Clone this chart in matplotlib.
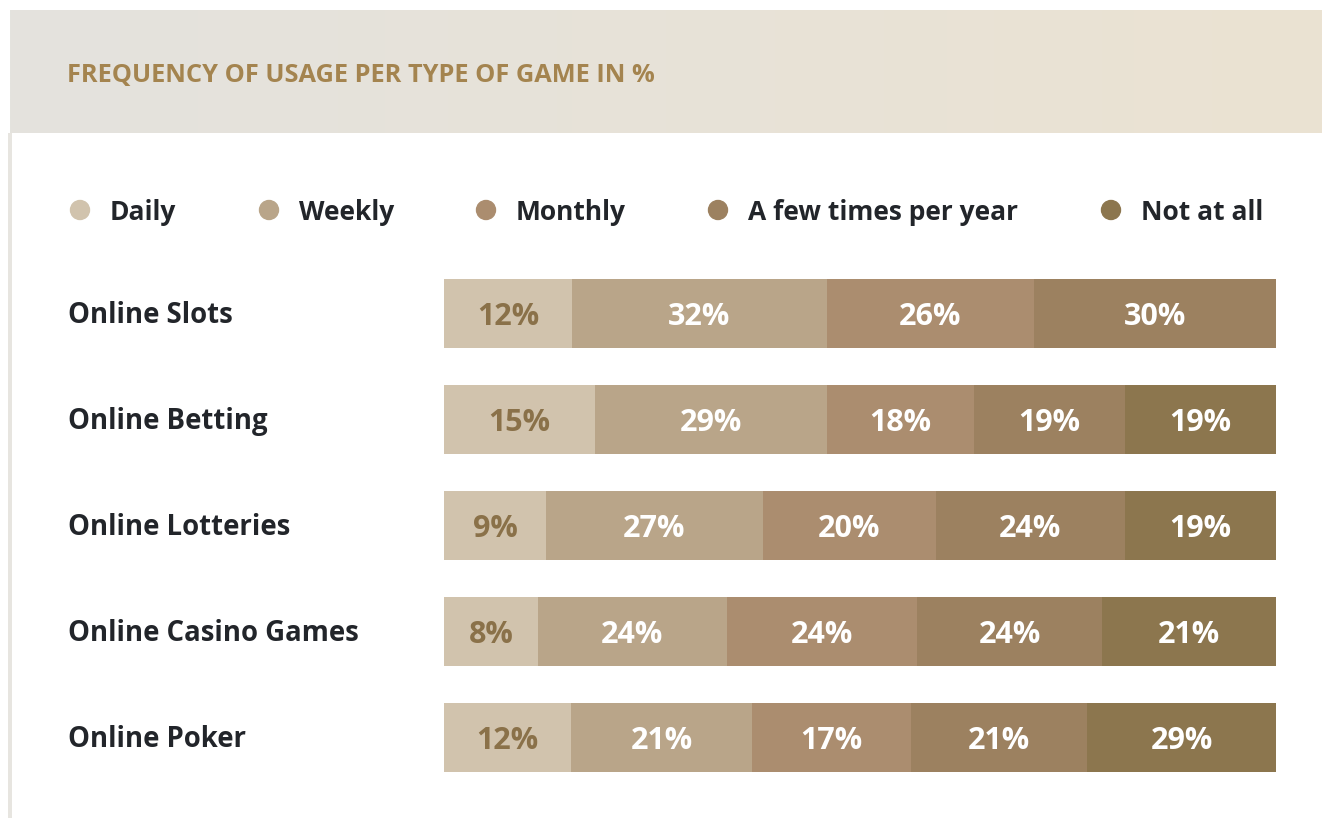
import matplotlib
matplotlib.use("Agg")
import matplotlib.pyplot as plt
import matplotlib.transforms as mtransforms
import numpy as np

# data
games = ["Online Slots", "Online Betting", "Online Lotteries",
         "Online Casino Games", "Online Poker"]
frequencies = ["Daily", "Weekly", "Monthly", "A few times per year", "Not at all"]

# printed percentages per game (Daily, Weekly, Monthly, Few times, Not at all)
slots_pct = [12, 32, 26, 30, 0]
betting_pct = [15, 29, 18, 19, 19]
lotteries_pct = [9, 27, 20, 24, 19]
casino_pct = [8, 24, 24, 24, 21]
poker_pct = [12, 21, 17, 21, 29]

# drawn segment widths (share of the bar)
slots_width = [15.4, 30.6, 24.9, 29.1, 0]
betting_width = [18.1, 27.9, 17.7, 18.2, 18.1]
lotteries_width = [12.3, 26.0, 20.8, 22.7, 18.2]
casino_width = [11.3, 22.7, 22.9, 22.2, 20.9]
poker_width = [15.3, 21.7, 19.1, 21.2, 22.7]

colors = ["#d1c3ad", "#b9a589", "#ab8d6f", "#9c8160", "#8c764e"]
label_colors = ["#8a7149", "white", "white", "white", "white"]

pcts = np.array([slots_pct, betting_pct, lotteries_pct, casino_pct, poker_pct])
widths = np.array([slots_width, betting_width, lotteries_width, casino_width, poker_width])

FONT = "Open Sans"
W, H = 1322, 818
fig = plt.figure(figsize=(W / 100, H / 100), dpi=100)
fig.patch.set_facecolor("white")


def px_box(x0, y0, x1, y1):
    # pixel box (top-left origin) -> figure fraction rect
    return [x0 / W, 1 - y1 / H, (x1 - x0) / W, (y1 - y0) / H]


# header band with soft gradient
hax = fig.add_axes(px_box(10, 10, W, 133))
grad = np.linspace(0, 1, 512)
c0 = np.array([0xe4, 0xe3, 0xde]) / 255
c1 = np.array([0xeb, 0xe2, 0xd2]) / 255
img = c0[None, :] * (1 - grad[:, None]) + c1[None, :] * grad[:, None]
hax.imshow(img[None, :, :], aspect="auto", extent=[0, 1, 0, 1])
hax.set_axis_off()
fig.text(67 / W, 1 - 72 / H, "FREQUENCY OF USAGE PER TYPE OF GAME IN %",
         fontsize=18.3, fontweight="bold", color="#a4844f", family=FONT,
         ha="left", va="center_baseline")

# left border line
lax = fig.add_axes(px_box(8, 133, 12, H))
lax.set_facecolor("#e7e5e0")
lax.set_xticks([])
lax.set_yticks([])
for s in lax.spines.values():
    s.set_visible(False)

# legend
legend_x = [80, 269, 486, 718, 1111]
for xp, name, col in zip(legend_x, frequencies, colors):
    fig.patches.append(matplotlib.patches.Ellipse(
        (xp / W, 1 - 210 / H), 19 / W, 19 / H, transform=fig.transFigure,
        color=col, zorder=3))
    fig.text((xp + 30) / W, 1 - 210 / H, name, fontsize=19, fontweight="bold",
             color="#22252a", family=FONT, ha="left", va="center_baseline")

# bars
ax = fig.add_axes(px_box(444, 260.3, 1276, 790.3))
y = np.arange(len(games))
left = np.zeros(len(games))
for j in range(len(frequencies)):
    ax.barh(y, widths[:, j], left=left, height=0.648, color=colors[j], linewidth=0)
    for i in range(len(games)):
        if pcts[i, j] > 0:
            ax.text(left[i] + widths[i, j] / 2, y[i], f"{pcts[i, j]}%",
                    ha="center", va="center_baseline", fontsize=22,
                    fontweight="bold", color=label_colors[j], family=FONT)
    left += widths[:, j]

ax.set_xlim(0, 100)
ax.set_ylim(len(games) - 0.5, -0.5)
ax.set_axis_off()

trans = mtransforms.blended_transform_factory(fig.transFigure, ax.transData)
for i, g in enumerate(games):
    ax.text(68 / W, y[i] - 0.01, g, transform=trans, ha="left", va="center_baseline",
            fontsize=19.8, fontweight="bold", color="#22252a", family=FONT)

fig.savefig("out.png", dpi=100, facecolor="white")
